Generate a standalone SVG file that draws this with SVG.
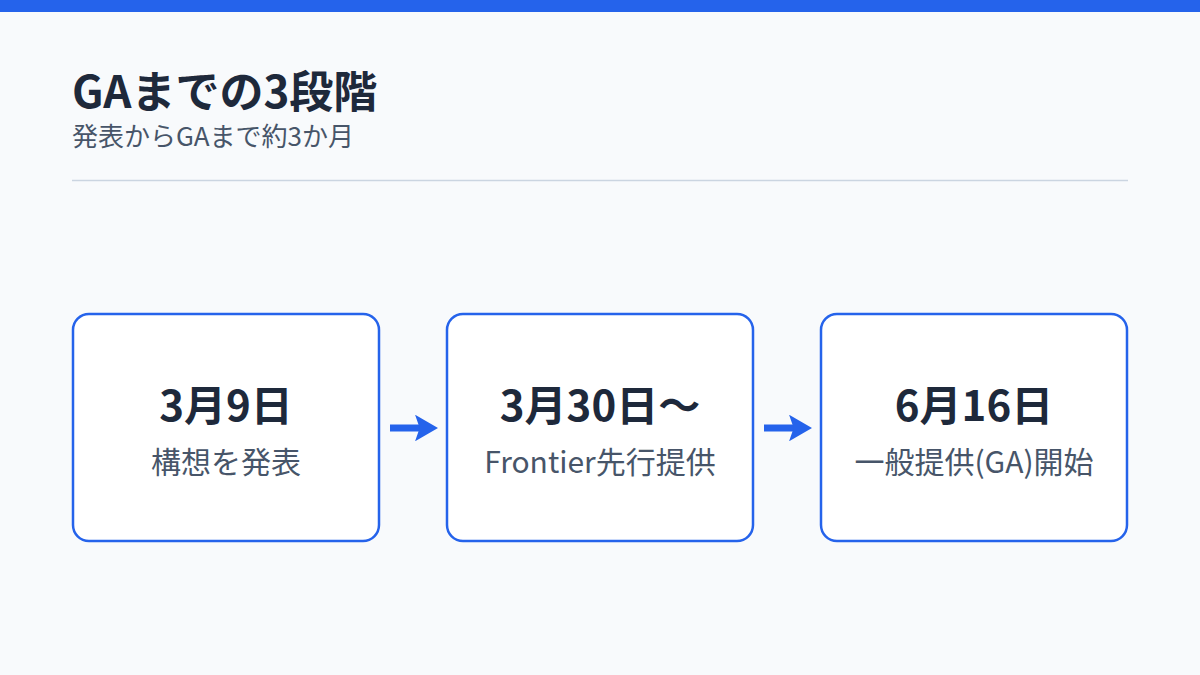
<svg xmlns="http://www.w3.org/2000/svg" width="1200" height="675" viewBox="0 0 1200 675">
<defs>
<style>
.title{font-family:"Noto Sans CJK JP","Noto Sans",sans-serif;font-weight:700;font-size:44px;fill:#1e293b}
.sub{font-family:"Noto Sans CJK JP","Noto Sans",sans-serif;font-size:26px;fill:#475569}
.box{fill:#ffffff;stroke:#2563eb;stroke-width:2.5}
.date{font-family:"Noto Sans CJK JP","Noto Sans",sans-serif;font-weight:700;font-size:42px;fill:#1e293b;text-anchor:middle}
.desc{font-family:"Noto Sans CJK JP","Noto Sans",sans-serif;font-size:30px;fill:#475569;text-anchor:middle}
.conn{stroke:#2563eb;stroke-width:7;fill:none}
</style>
<marker id="ah" viewBox="0 0 10 11.5" refX="5.6" refY="5.75" markerWidth="3.3" markerHeight="3.8" orient="auto" markerUnits="strokeWidth">
<path d="M0,0 L10,5.75 L0,11.5 L2,5.75 Z" fill="#2563eb"/>
</marker>
</defs>
<rect x="0" y="0" width="1200" height="675" fill="#f8fafc"/>
<rect x="0" y="0" width="1200" height="12" fill="#2563eb"/>
<g id="header">
<text class="title" x="72" y="108">GAまでの3段階</text>
<text class="sub" x="72" y="146">発表からGAまで約3か月</text>
<line x1="72" y1="180.5" x2="1128" y2="180.5" stroke="#cbd5e1" stroke-width="1.5"/>
</g>
<g id="connectors">
<line class="conn" x1="390" y1="428" x2="428" y2="428" marker-end="url(#ah)"/>
<line class="conn" x1="764" y1="428" x2="802" y2="428" marker-end="url(#ah)"/>
</g>
<g id="node1">
<rect class="box" x="73" y="314" width="306" height="227" rx="16"/>
<text class="date" x="226" y="421">3月9日</text>
<text class="desc" x="226" y="473">構想を発表</text>
</g>
<g id="node2">
<rect class="box" x="447" y="314" width="306" height="227" rx="16"/>
<text class="date" x="600" y="421">3月30日〜</text>
<text class="desc" x="600" y="473">Frontier先行提供</text>
</g>
<g id="node3">
<rect class="box" x="821" y="314" width="306" height="227" rx="16"/>
<text class="date" x="974" y="421">6月16日</text>
<text class="desc" x="974" y="473">一般提供(GA)開始</text>
</g>
</svg>
